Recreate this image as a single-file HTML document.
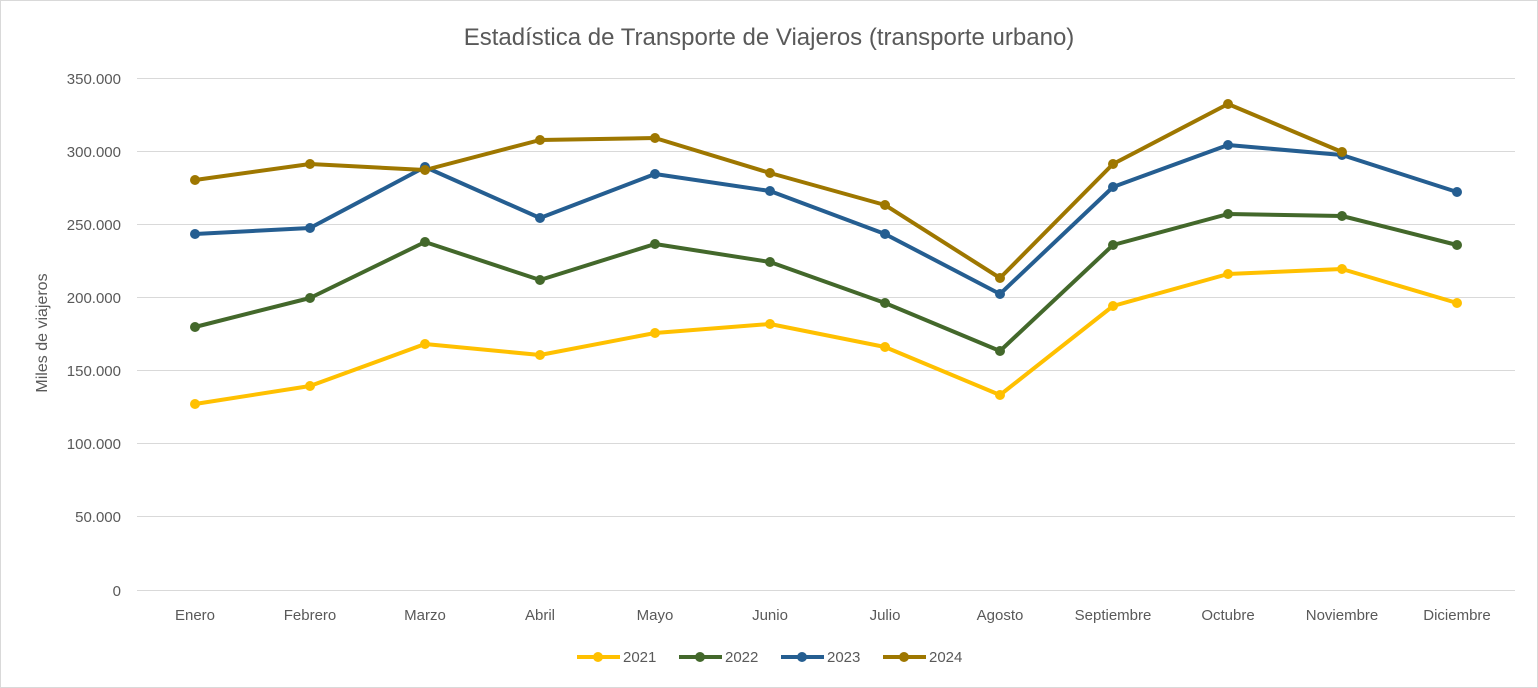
<!DOCTYPE html>
<html><head><meta charset="utf-8"><style>
body{margin:0;background:#fff;}
svg{display:block;font-family:"Liberation Sans",sans-serif;}
</style></head><body>
<svg width="1538" height="688" viewBox="0 0 1538 688">
<rect x="0.5" y="0.5" width="1537" height="687" fill="#fff" stroke="#d9d9d9"/>
<text x="769" y="45" text-anchor="middle" font-size="24" fill="#595959">Estadística de Transporte de Viajeros (transporte urbano)</text>
<g stroke="#d9d9d9" stroke-width="1">
<line x1="137" x2="1515" y1="78.5" y2="78.5"/><line x1="137" x2="1515" y1="151.5" y2="151.5"/>
<line x1="137" x2="1515" y1="224.5" y2="224.5"/><line x1="137" x2="1515" y1="297.5" y2="297.5"/>
<line x1="137" x2="1515" y1="370.5" y2="370.5"/><line x1="137" x2="1515" y1="443.5" y2="443.5"/>
<line x1="137" x2="1515" y1="516.5" y2="516.5"/><line x1="137" x2="1515" y1="590.5" y2="590.5"/>
</g>
<g font-size="15" fill="#595959" text-anchor="end">
<text x="121" y="84">350.000</text><text x="121" y="157">300.000</text><text x="121" y="230">250.000</text>
<text x="121" y="303">200.000</text><text x="121" y="376">150.000</text><text x="121" y="449">100.000</text>
<text x="121" y="522">50.000</text><text x="121" y="596">0</text>
</g>
<text transform="translate(47,333) rotate(-90)" text-anchor="middle" font-size="16" fill="#595959">Miles de viajeros</text>
<g font-size="15" fill="#595959" text-anchor="middle">
<text x="195" y="620">Enero</text><text x="310" y="620">Febrero</text><text x="425" y="620">Marzo</text>
<text x="540" y="620">Abril</text><text x="655" y="620">Mayo</text><text x="770" y="620">Junio</text>
<text x="885" y="620">Julio</text><text x="1000" y="620">Agosto</text><text x="1113" y="620">Septiembre</text>
<text x="1228" y="620">Octubre</text><text x="1342" y="620">Noviembre</text><text x="1457" y="620">Diciembre</text>
</g>
<g fill="none" stroke-width="4" stroke-linejoin="round">
<polyline stroke="#FFC000" points="195,404 310,386 425,344 540,355 655,333 770,324 885,347 1000,395 1113,306 1228,274 1342,269 1457,303"/>
<polyline stroke="#43682B" points="195,327 310,298 425,242 540,280 655,244 770,262 885,303 1000,351 1113,245 1228,214 1342,216 1457,245"/>
<polyline stroke="#255E91" points="195,234 310,228 425,167 540,218 655,174 770,191 885,234 1000,294 1113,187 1228,145 1342,155 1457,192"/>
<polyline stroke="#9E7700" points="195,180 310,164 425,170 540,140 655,138 770,173 885,205 1000,278 1113,164 1228,104 1342,152"/>
</g>
<g fill="#FFC000"><circle cx="195" cy="404" r="5"/><circle cx="310" cy="386" r="5"/><circle cx="425" cy="344" r="5"/><circle cx="540" cy="355" r="5"/><circle cx="655" cy="333" r="5"/><circle cx="770" cy="324" r="5"/><circle cx="885" cy="347" r="5"/><circle cx="1000" cy="395" r="5"/><circle cx="1113" cy="306" r="5"/><circle cx="1228" cy="274" r="5"/><circle cx="1342" cy="269" r="5"/><circle cx="1457" cy="303" r="5"/></g>
<g fill="#43682B"><circle cx="195" cy="327" r="5"/><circle cx="310" cy="298" r="5"/><circle cx="425" cy="242" r="5"/><circle cx="540" cy="280" r="5"/><circle cx="655" cy="244" r="5"/><circle cx="770" cy="262" r="5"/><circle cx="885" cy="303" r="5"/><circle cx="1000" cy="351" r="5"/><circle cx="1113" cy="245" r="5"/><circle cx="1228" cy="214" r="5"/><circle cx="1342" cy="216" r="5"/><circle cx="1457" cy="245" r="5"/></g>
<g fill="#255E91"><circle cx="195" cy="234" r="5"/><circle cx="310" cy="228" r="5"/><circle cx="425" cy="167" r="5"/><circle cx="540" cy="218" r="5"/><circle cx="655" cy="174" r="5"/><circle cx="770" cy="191" r="5"/><circle cx="885" cy="234" r="5"/><circle cx="1000" cy="294" r="5"/><circle cx="1113" cy="187" r="5"/><circle cx="1228" cy="145" r="5"/><circle cx="1342" cy="155" r="5"/><circle cx="1457" cy="192" r="5"/></g>
<g fill="#9E7700"><circle cx="195" cy="180" r="5"/><circle cx="310" cy="164" r="5"/><circle cx="425" cy="170" r="5"/><circle cx="540" cy="140" r="5"/><circle cx="655" cy="138" r="5"/><circle cx="770" cy="173" r="5"/><circle cx="885" cy="205" r="5"/><circle cx="1000" cy="278" r="5"/><circle cx="1113" cy="164" r="5"/><circle cx="1228" cy="104" r="5"/><circle cx="1342" cy="152" r="5"/></g>
<g font-size="15" fill="#595959" stroke-width="4">
<line x1="577" x2="620" y1="657" y2="657" stroke="#FFC000"/><circle cx="598" cy="657" r="5" fill="#FFC000"/><text x="623" y="662">2021</text>
<line x1="679" x2="722" y1="657" y2="657" stroke="#43682B"/><circle cx="700" cy="657" r="5" fill="#43682B"/><text x="725" y="662">2022</text>
<line x1="781" x2="824" y1="657" y2="657" stroke="#255E91"/><circle cx="802" cy="657" r="5" fill="#255E91"/><text x="827" y="662">2023</text>
<line x1="883" x2="926" y1="657" y2="657" stroke="#9E7700"/><circle cx="904" cy="657" r="5" fill="#9E7700"/><text x="929" y="662">2024</text>
</g>
</svg>
</body></html>
